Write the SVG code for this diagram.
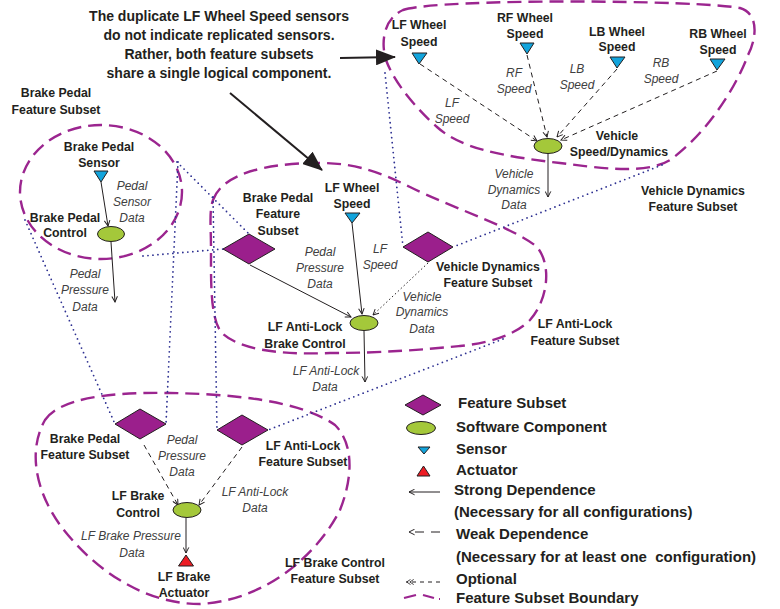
<svg xmlns="http://www.w3.org/2000/svg" width="780" height="609" viewBox="0 0 780 609">
<style>
.b{font-family:"Liberation Sans",Arial,sans-serif;font-weight:bold;font-size:12.3px;fill:#231f20}
.c{font-family:"Liberation Sans",Arial,sans-serif;font-weight:bold;font-size:14px;fill:#231f20}
.lg{font-family:"Liberation Sans",Arial,sans-serif;font-weight:bold;font-size:15px;fill:#231f20}
.i{font-family:"Liberation Sans",Arial,sans-serif;font-style:italic;font-size:12px;fill:#404040}
.m{text-anchor:middle}
.bd{fill:none;stroke:#9b258f;stroke-width:2.4;stroke-dasharray:14 7}
.dot{fill:none;stroke:#2e3192;stroke-width:1.8;stroke-linecap:round;stroke-dasharray:0 5}
.strong{fill:none;stroke:#231f20;stroke-width:1;marker-end:url(#ah)}
.weak{fill:none;stroke:#231f20;stroke-width:1;stroke-dasharray:5 4;marker-end:url(#ah)}
.opt{fill:none;stroke:#231f20;stroke-width:1;stroke-dasharray:1.5 2.5;marker-end:url(#ah)}
.fs{fill:#9b1f8c;stroke:#231f20;stroke-width:1}
.sc{fill:#a4c83a;stroke:#231f20;stroke-width:1}
.sn{fill:#12a4dc;stroke:#231f20;stroke-width:1}
.ac{fill:#ed1c24;stroke:#231f20;stroke-width:1}
</style>
<defs>
<marker id="ah" viewBox="0 0 10 10" refX="9" refY="5" markerWidth="7" markerHeight="7" markerUnits="userSpaceOnUse" orient="auto-start-reverse">
<path d="M1,1 L9,5 L1,9" fill="none" stroke="#231f20" stroke-width="1.4"/>
</marker>
<marker id="ah2" viewBox="0 0 14 10" refX="13" refY="5" markerWidth="9" markerHeight="7" markerUnits="userSpaceOnUse" orient="auto">
<path d="M1,1 L7,5 L1,9 M6,1 L12,5 L6,9" fill="none" stroke="#231f20" stroke-width="1.3"/>
</marker>
<marker id="big" viewBox="0 0 20 16" refX="19" refY="8" markerWidth="20" markerHeight="16" markerUnits="userSpaceOnUse" orient="auto">
<path d="M0,0 L20,8 L0,16 Z" fill="#231f20"/>
</marker>
</defs>

<!-- boundaries -->
<g id="boundaries">
<ellipse class="bd" cx="101" cy="192" rx="81" ry="67"/>
<path class="bd" d="M403,10 C440,-2 700,0 740,8 C760,14 756,40 748,55 C735,90 705,135 670,160 C645,175 600,168 560,163 C500,156 460,148 437,127 C420,112 395,85 386,60 C380,40 385,18 403,10 Z"/>
<path class="bd" d="M213,200 C222,175 262,163 320,163 C355,163 380,172 410,187 C450,207 515,228 537,247 C552,265 548,300 530,320 C515,335 490,343 460,346 C420,350 380,353 330,353 C280,355 240,350 222,333 C210,320 211,280 211,250 C211,225 209,212 213,200 Z"/>
<path class="bd" d="M45,420 C60,398 110,392 170,393 C230,394 300,400 335,425 C355,445 352,480 340,510 C320,550 270,600 200,604 C140,604 90,565 60,525 C35,490 28,450 45,420 Z"/>
</g>

<!-- connectors -->
<g id="connectors">
<line class="dot" x1="177" y1="162" x2="249" y2="234"/>
<line class="dot" x1="143" y1="256" x2="223" y2="249"/>
<line class="dot" x1="178" y1="162" x2="166" y2="424"/>
<line class="dot" x1="25" y1="220" x2="115" y2="424"/>
<line class="dot" x1="213" y1="197" x2="217" y2="430"/>
<line class="dot" x1="503" y1="339" x2="268" y2="430"/>
<line class="dot" x1="385" y1="73" x2="403" y2="247"/>
<line class="dot" x1="662" y1="165" x2="453" y2="247"/>

<line class="strong" x1="101" y1="182" x2="108" y2="226"/>
<line class="strong" x1="111" y1="242" x2="115" y2="302"/>
<line class="strong" x1="250" y1="265" x2="351" y2="317"/>
<line class="strong" x1="352" y1="223" x2="362" y2="314"/>
<line class="opt" x1="428" y1="263" x2="373" y2="315"/>
<line class="strong" x1="364" y1="331" x2="365" y2="382"/>

<line class="weak" x1="420" y1="64" x2="537" y2="141"/>
<line class="weak" x1="527" y1="55" x2="547" y2="137"/>
<line class="weak" x1="617" y1="69" x2="557" y2="137"/>
<line class="weak" x1="717" y1="71" x2="561" y2="140"/>
<line class="strong" x1="548" y1="153" x2="548" y2="197"/>

<line class="weak" x1="144" y1="445" x2="178" y2="505"/>
<line class="weak" x1="242" y1="447" x2="199" y2="505"/>
<line class="strong" x1="186" y1="518" x2="186" y2="553"/>

<line x1="340" y1="58" x2="395" y2="57" stroke="#231f20" stroke-width="2" marker-end="url(#big)"/>
<line x1="230" y1="93" x2="322" y2="170" stroke="#231f20" stroke-width="2" marker-end="url(#big)"/>
</g>

<!-- callout -->
<g id="callout">
<text class="c m" x="219" y="21">The duplicate LF Wheel Speed sensors</text>
<text class="c m" x="219" y="40">do not indicate replicated sensors.</text>
<text class="c m" x="219" y="59">Rather, both feature subsets</text>
<text class="c m" x="219" y="78">share a single logical component.</text>
</g>

<!-- Brake pedal subset -->
<g id="bp-label"><text class="b m" x="56" y="97">Brake Pedal</text><text class="b m" x="56" y="114">Feature Subset</text></g>
<g id="bp-sensor">
<polygon class="sn" points="94,171 108,171 101,182"/>
<text class="b m" x="99" y="151">Brake Pedal</text><text class="b m" x="99" y="167">Sensor</text>
</g>
<g id="bp-sensor-data"><text class="i m" x="132" y="190">Pedal</text><text class="i m" x="132" y="206">Sensor</text><text class="i m" x="132" y="222">Data</text></g>
<g id="bp-control">
<ellipse class="sc" cx="111" cy="234" rx="13.5" ry="7.5"/>
<text class="b m" x="65" y="222">Brake Pedal</text><text class="b m" x="65" y="237">Control</text>
</g>
<g id="bp-pressure"><text class="i m" x="85" y="278">Pedal</text><text class="i m" x="85" y="294">Pressure</text><text class="i m" x="85" y="311">Data</text></g>

<!-- LF anti-lock subset -->
<g id="mid-bp-fs">
<polygon class="fs" points="249,234 275,249 249,264 223,249"/>
<text class="b m" x="278" y="202">Brake Pedal</text><text class="b m" x="278" y="218">Feature</text><text class="b m" x="278" y="235">Subset</text>
</g>
<g id="mid-pressure"><text class="i m" x="320" y="256">Pedal</text><text class="i m" x="320" y="272">Pressure</text><text class="i m" x="320" y="288">Data</text></g>
<g id="mid-lfws">
<polygon class="sn" points="345,213 360,213 352,223"/>
<text class="b m" x="352" y="192">LF Wheel</text><text class="b m" x="352" y="208">Speed</text>
</g>
<g id="mid-lfspeed"><text class="i m" x="380" y="253">LF</text><text class="i m" x="380" y="269">Speed</text></g>
<g id="mid-vd-fs">
<polygon class="fs" points="428,232 453,247 428,262 403,247"/>
<text class="b m" x="488" y="271">Vehicle Dynamics</text><text class="b m" x="488" y="287">Feature Subset</text>
</g>
<g id="mid-vdd"><text class="i m" x="422" y="301">Vehicle</text><text class="i m" x="422" y="316">Dynamics</text><text class="i m" x="422" y="333">Data</text></g>
<g id="lfal-control">
<ellipse class="sc" cx="364" cy="323" rx="14" ry="7.5"/>
<text class="b m" x="305" y="331">LF Anti-Lock</text><text class="b m" x="305" y="348">Brake Control</text>
</g>
<g id="lfal-data"><text class="i m" x="326" y="375">LF Anti-Lock</text><text class="i m" x="325" y="391">Data</text></g>
<g id="lfal-label"><text class="b m" x="575" y="328">LF Anti-Lock</text><text class="b m" x="575" y="345">Feature Subset</text></g>

<!-- vehicle dynamics subset -->
<g id="vd-lf">
<polygon class="sn" points="412,53 427,53 419,64"/>
<text class="b m" x="419" y="29">LF Wheel</text><text class="b m" x="419" y="46">Speed</text>
</g>
<g id="vd-rf">
<polygon class="sn" points="520,43 534,43 527,54"/>
<text class="b m" x="525" y="22">RF Wheel</text><text class="b m" x="525" y="38">Speed</text>
</g>
<g id="vd-lb">
<polygon class="sn" points="610,57 625,57 617,68"/>
<text class="b m" x="617" y="36">LB Wheel</text><text class="b m" x="617" y="51">Speed</text>
</g>
<g id="vd-rb">
<polygon class="sn" points="710,59 725,59 717,70"/>
<text class="b m" x="718" y="38">RB Wheel</text><text class="b m" x="718" y="54">Speed</text>
</g>
<g id="vd-speeds">
<text class="i m" x="452" y="107">LF</text><text class="i m" x="452" y="123">Speed</text>
<text class="i m" x="514" y="77">RF</text><text class="i m" x="514" y="93">Speed</text>
<text class="i m" x="577" y="73">LB</text><text class="i m" x="577" y="89">Speed</text>
<text class="i m" x="661" y="67">RB</text><text class="i m" x="661" y="83">Speed</text>
</g>
<g id="vd-control">
<ellipse class="sc" cx="548" cy="146" rx="14" ry="7.5"/>
<text class="b m" x="617" y="140">Vehicle</text><text class="b m" x="619" y="156">Speed/Dynamics</text>
</g>
<g id="vd-data"><text class="i m" x="514" y="178">Vehicle</text><text class="i m" x="514" y="194">Dynamics</text><text class="i m" x="514" y="209">Data</text></g>
<g id="vd-label"><text class="b m" x="693" y="195">Vehicle Dynamics</text><text class="b m" x="693" y="211">Feature Subset</text></g>

<!-- LF brake control subset -->
<g id="bot-bp-fs">
<polygon class="fs" points="140,409 166,424 140,439 115,424"/>
<text class="b m" x="85" y="443">Brake Pedal</text><text class="b m" x="85" y="459">Feature Subset</text>
</g>
<g id="bot-lfal-fs">
<polygon class="fs" points="242,415 268,430 242,445 217,430"/>
<text class="b m" x="303" y="450">LF Anti-Lock</text><text class="b m" x="303" y="466">Feature Subset</text>
</g>
<g id="bot-pressure"><text class="i m" x="182" y="444">Pedal</text><text class="i m" x="182" y="460">Pressure</text><text class="i m" x="182" y="476">Data</text></g>
<g id="bot-lfal-data"><text class="i m" x="255" y="496">LF Anti-Lock</text><text class="i m" x="255" y="512">Data</text></g>
<g id="lfb-control">
<ellipse class="sc" cx="187" cy="510" rx="14" ry="7.5"/>
<text class="b m" x="138" y="500">LF Brake</text><text class="b m" x="138" y="517">Control</text>
</g>
<g id="lfb-pressure"><text class="i m" x="131" y="540">LF Brake Pressure</text><text class="i m" x="132" y="557">Data</text></g>
<g id="lfb-actuator">
<polygon class="ac" points="186,555 193.5,566 178.5,566"/>
<text class="b m" x="184" y="581">LF Brake</text><text class="b m" x="184" y="597">Actuator</text>
</g>
<g id="lfb-label"><text class="b m" x="335" y="567">LF Brake Control</text><text class="b m" x="335" y="583">Feature Subset</text></g>

<!-- legend -->
<g id="legend">
<polygon class="fs" points="423,395 441,405 423,415 405,405"/>
<text class="lg" x="458" y="408">Feature Subset</text>
<ellipse class="sc" cx="421" cy="428" rx="14.5" ry="6.5"/>
<text class="lg" x="456" y="432">Software Component</text>
<polygon class="sn" points="418,447 430,447 424,454"/>
<text class="lg" x="456" y="454">Sensor</text>
<polygon class="ac" points="423.5,466 430,476 417,476"/>
<text class="lg" x="456" y="475">Actuator</text>
<line x1="440" y1="492" x2="409" y2="492" stroke="#231f20" stroke-width="1" marker-end="url(#ah)"/>
<text class="lg" x="454" y="495">Strong Dependence</text>
<text class="lg" x="454" y="517">(Necessary for all configurations)</text>
<line x1="440" y1="532" x2="409" y2="532" stroke="#231f20" stroke-width="1" stroke-dasharray="9 7" marker-end="url(#ah)"/>
<text class="lg" x="456" y="539">Weak Dependence</text>
<text class="lg" x="456" y="562">(Necessary for at least one&#160; configuration)</text>
<line x1="440" y1="582" x2="406" y2="582" stroke="#231f20" stroke-width="1" stroke-dasharray="4 4" marker-end="url(#ah2)"/>
<text class="lg" x="456" y="584">Optional</text>
<path d="M404,598 L416,595 M423,595 L434,598 M439,599 L440,599" fill="none" stroke="#9b258f" stroke-width="2.2"/>
<text class="lg" x="456" y="603">Feature Subset Boundary</text>
</g>
</svg>
